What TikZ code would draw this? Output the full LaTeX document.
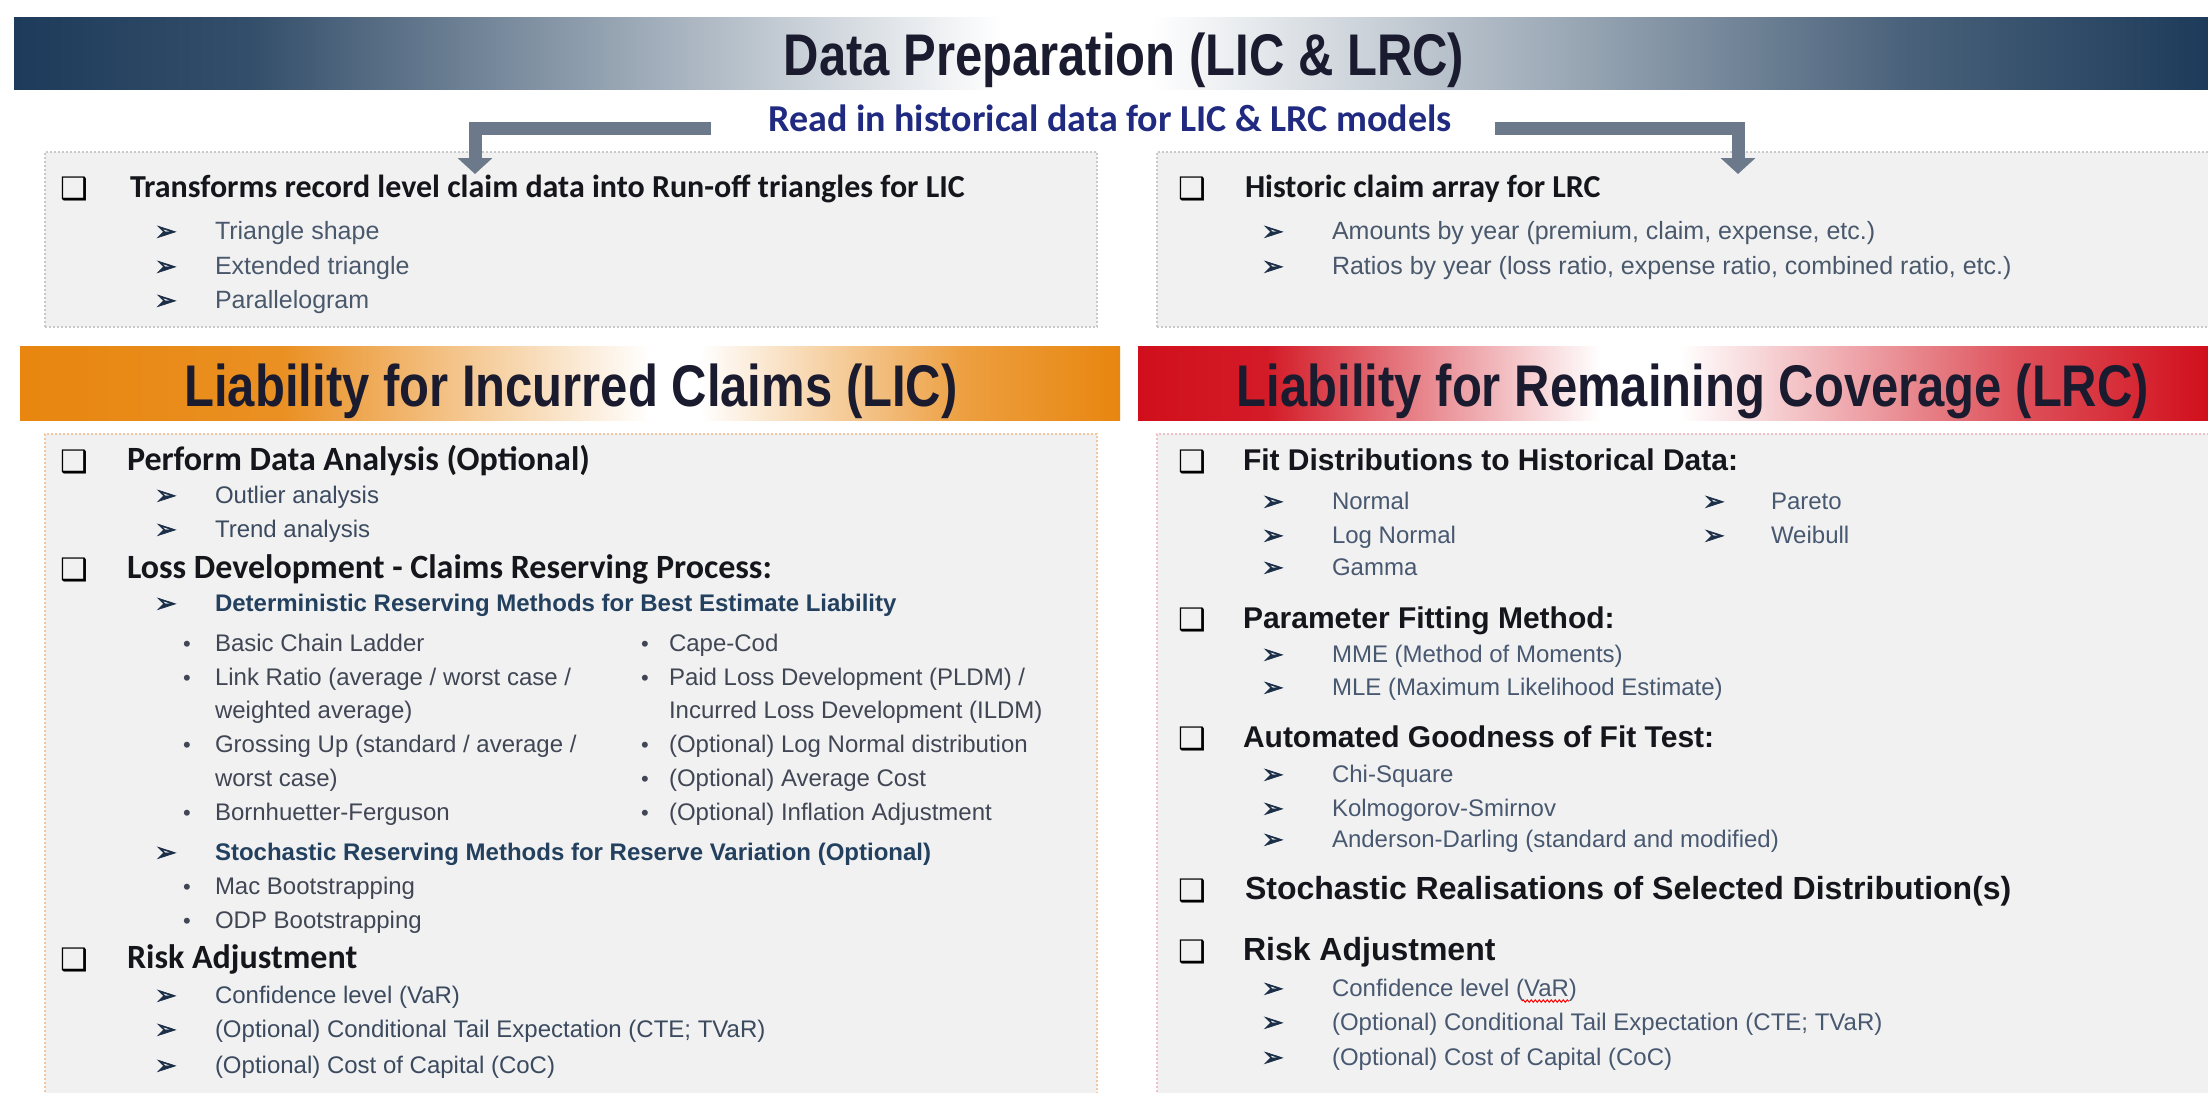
\documentclass[tikz,border=0pt]{standalone}
\usepackage{graphicx}
\usepackage{fontspec}
\setmainfont{Liberation Sans}
\newfontfamily\calibrifont{Carlito}
\newfontfamily\djvfont{DejaVu Sans}
\newfontfamily\djvboldfont[FakeBold=2.5]{DejaVu Sans}
\usetikzlibrary{arrows.meta,decorations.pathmorphing}
\definecolor{navy}{HTML}{1D3B5A}
\definecolor{orng}{HTML}{E8860F}
\definecolor{redc}{HTML}{D10F1C}
\definecolor{boxfill}{HTML}{F1F1F1}
\definecolor{boxline}{HTML}{C9C9C9}
\definecolor{licline}{HTML}{F2C7A0}
\definecolor{lrcline}{HTML}{F0BFC8}
\definecolor{titleink}{HTML}{1B1B2F}
\definecolor{readink}{HTML}{1F2A80}
\definecolor{headink}{HTML}{15151C}
\definecolor{topink}{HTML}{4A586C}
\definecolor{itemink}{HTML}{3B4A5E}
\definecolor{lrcink}{HTML}{475870}
\definecolor{bulletink}{HTML}{404654}
\definecolor{subink}{HTML}{23405F}
\definecolor{arrowink}{HTML}{1C2F48}
\definecolor{barink}{HTML}{6C798B}
\pgfdeclarehorizontalshading{titleshade}{100bp}{color(0bp)=(navy); color(25bp)=(navy); color(30.4bp)=(navy!90!white); color(47.5bp)=(white); color(50.9bp)=(white); color(68bp)=(navy!80!white); color(75bp)=(navy); color(100bp)=(navy)}
\pgfdeclarehorizontalshading{licshade}{100bp}{color(0bp)=(orng); color(25bp)=(orng); color(36.9bp)=(orng!92!white); color(53.6bp)=(white); color(55.9bp)=(white); color(68bp)=(orng!80!white); color(75bp)=(orng); color(100bp)=(orng)}
\pgfdeclarehorizontalshading{lrcshade}{100bp}{color(0bp)=(redc); color(25bp)=(redc); color(31bp)=(redc!95!white); color(46.6bp)=(white); color(50.3bp)=(white); color(66bp)=(redc!72!white); color(75bp)=(redc); color(100bp)=(redc)}
\newcommand\talltext[1]{\scalebox{1}[1.2]{#1}}
\tikzset{
 txt/.style={inner sep=0pt, outer sep=0pt, anchor=base west},
 bigtitle/.style={txt, anchor=base, font=\bfseries\fontsize{49}{55}\selectfont, text=titleink},
 readline/.style={txt, anchor=base, font=\calibrifont\bfseries\fontsize{38}{44}\selectfont, text=readink},
 banner/.style={draw=none, minimum height=74pt, inner sep=0pt, outer sep=0pt, anchor=north west},
 panel/.style={fill=boxfill, line width=1.5pt, dash pattern=on 2pt off 2pt, anchor=north west, inner sep=0pt, outer sep=0pt},
 chk/.style={txt, font=\djvfont\fontsize{31}{36}\selectfont, text=black},
 arw/.style={txt, font=\djvboldfont\fontsize{26}{30}\selectfont, text=arrowink},
 dotb/.style={txt, font=\fontsize{22}{28}\selectfont, text=bulletink},
 hcal/.style={txt, font=\calibrifont\bfseries\fontsize{34}{40}\selectfont, text=headink},
 htop/.style={txt, font=\calibrifont\bfseries\fontsize{32}{38}\selectfont, text=headink},
 harl/.style={txt, font=\bfseries\fontsize{30}{36}\selectfont, text=headink},
 harlb/.style={txt, font=\bfseries\fontsize{32}{38}\selectfont, text=headink},
 itm/.style={txt, font=\fontsize{24}{28}\selectfont, text=itemink},
 litm/.style={txt, font=\fontsize{24}{28}\selectfont, text=bulletink},
 ritm/.style={txt, font=\fontsize{24}{28}\selectfont, text=lrcink},
 topitm/.style={txt, font=\fontsize{25}{30}\selectfont, text=topink},
 subh/.style={txt, font=\bfseries\fontsize{24}{28}\selectfont, text=subink},
 bar/.style={line width=13pt, draw=barink, line join=miter, -{Triangle[width=34pt,length=16pt]}},
}
\begin{document}
\begin{tikzpicture}[x=1pt,y=-1pt]
\useasboundingbox (0,0) rectangle (2208,1092);
\clip (0,0) rectangle (2208,1092);
\fill[white] (0,0) rectangle (2208,1092);
% title banner
\node[banner, minimum width=2194pt, minimum height=72pt, shading=titleshade] (tband) at (14,17) {};
\node[bigtitle] (title) at (1124,75) {\talltext{Data Preparation (LIC \& LRC)}};
\node[readline] (read) at (1110,131) {Read in historical data for LIC \& LRC models};
% top panels
\node[panel, draw=boxline, minimum width=1052pt, minimum height=175pt] (topL) at (45,152) {};
\node[panel, draw=boxline, minimum width=1070pt, minimum height=175pt] (topR) at (1157,152) {};
% arrows
\coordinate (la1) at (711,128);
\coordinate (la2) at (475,128);
\coordinate (la3) at (475,174);
\coordinate (ra1) at (1495,128);
\coordinate (ra2) at (1738,128);
\coordinate (ra3) at (1738,174);
\draw[bar] (la1) -- (la2) -- (la3);
\draw[bar] (ra1) -- (ra2) -- (ra3);
% top-left content
\node[chk] (c1) at (60,199) {❑};
\node[htop] (h1) at (130,197) {Transforms record level claim data into Run-off triangles for LIC};
\node[arw] (a1) at (155,240) {➢};
\node[topitm] (t1) at (215,239) {Triangle shape};
\node[arw] (a2) at (155,275) {➢};
\node[topitm] (t2) at (215,274) {Extended triangle};
\node[arw] (a3) at (155,309) {➢};
\node[topitm] (t3) at (215,308) {Parallelogram};
% top-right content
\node[chk] (c2) at (1178,199) {❑};
\node[htop] (h2) at (1245,197) {Historic claim array for LRC};
\node[arw] (a4) at (1262,240) {➢};
\node[topitm] (t4) at (1332,239) {Amounts by year (premium, claim, expense, etc.)};
\node[arw] (a5) at (1262,275) {➢};
\node[topitm] (t5) at (1332,274) {Ratios by year (loss ratio, expense ratio, combined ratio, etc.)};
% banners
\node[banner, minimum width=1100pt, shading=licshade] (licband) at (20,346) {};
\node[bigtitle] (lictitle) at (571,406) {\talltext{Liability for Incurred Claims (LIC)}};
\node[banner, minimum width=1070pt, shading=lrcshade] (lrcband) at (1138,346) {};
\node[bigtitle] (lrctitle) at (1693,406) {\talltext{Liability for Remaining Coverage (LRC)}};
% lower panels
\node[panel, draw=licline, minimum width=1052pt, minimum height=680pt] (licbox) at (45,434) {};
\node[panel, draw=lrcline, minimum width=1070pt, minimum height=680pt] (lrcbox) at (1157,434) {};
% LIC content
\node[chk] (lc1) at (60,472) {❑};
\node[hcal] (lh1) at (127,470) {Perform Data Analysis (Optional)};
\node[arw] (la_1) at (155,504) {➢};
\node[itm] (li1) at (215,503) {Outlier analysis};
\node[arw] (la_2) at (155,538) {➢};
\node[itm] (li2) at (215,537) {Trend analysis};
\node[chk] (lc2) at (60,580) {❑};
\node[hcal] (lh2) at (127,578) {Loss Development - Claims Reserving Process:};
\node[arw] (la_3) at (155,612) {➢};
\node[subh] (ls1) at (215,611) {Deterministic Reserving Methods for Best Estimate Liability};
\node[dotb] (lb1) at (183,651) {•};
\node[litm] (lt1) at (215,651) {Basic Chain Ladder};
\node[dotb] (lb2) at (183,685) {•};
\node[litm] (lt2) at (215,685) {Link Ratio (average / worst case /};
\node[litm] (lt3) at (215,718) {weighted average)};
\node[dotb] (lb3) at (183,752) {•};
\node[litm] (lt4) at (215,752) {Grossing Up (standard / average /};
\node[litm] (lt5) at (215,786) {worst case)};
\node[dotb] (lb4) at (183,820) {•};
\node[litm] (lt6) at (215,820) {Bornhuetter-Ferguson};
\node[dotb] (rb1) at (641,651) {•};
\node[litm] (rt1) at (669,651) {Cape-Cod};
\node[dotb] (rb2) at (641,685) {•};
\node[litm] (rt2) at (669,685) {Paid Loss Development (PLDM) /};
\node[litm] (rt3) at (669,718) {Incurred Loss Development (ILDM)};
\node[dotb] (rb3) at (641,752) {•};
\node[litm] (rt4) at (669,752) {(Optional) Log Normal distribution};
\node[dotb] (rb4) at (641,786) {•};
\node[litm] (rt5) at (669,786) {(Optional) Average Cost};
\node[dotb] (rb5) at (641,820) {•};
\node[litm] (rt6) at (669,820) {(Optional) Inflation Adjustment};
\node[arw] (la_4) at (155,861) {➢};
\node[subh] (ls2) at (215,860) {Stochastic Reserving Methods for Reserve Variation (Optional)};
\node[dotb] (lb5) at (183,894) {•};
\node[litm] (lt7) at (215,894) {Mac Bootstrapping};
\node[dotb] (lb6) at (183,928) {•};
\node[litm] (lt8) at (215,928) {ODP Bootstrapping};
\node[chk] (lc3) at (60,970) {❑};
\node[hcal] (lh3) at (127,968) {Risk Adjustment};
\node[arw] (la_5) at (155,1004) {➢};
\node[itm] (li3) at (215,1003) {Confidence level (VaR)};
\node[arw] (la_6) at (155,1038) {➢};
\node[itm] (li4) at (215,1037) {(Optional) Conditional Tail Expectation (CTE; TVaR)};
\node[arw] (la_7) at (155,1074) {➢};
\node[itm] (li5) at (215,1073) {(Optional) Cost of Capital (CoC)};
% LRC content
\node[chk] (rc1) at (1178,472) {❑};
\node[harl] (rh1) at (1243,470) {Fit Distributions to Historical Data:};
\node[arw] (ra_1) at (1262,510) {➢};
\node[ritm] (ri1) at (1332,509) {Normal};
\node[arw] (ra_2) at (1703,510) {➢};
\node[ritm] (ri2) at (1771,509) {Pareto};
\node[arw] (ra_3) at (1262,544) {➢};
\node[ritm] (ri3) at (1332,543) {Log Normal};
\node[arw] (ra_4) at (1703,544) {➢};
\node[ritm] (ri4) at (1771,543) {Weibull};
\node[arw] (ra_5) at (1262,576) {➢};
\node[ritm] (ri5) at (1332,575) {Gamma};
\node[chk] (rc2) at (1178,630) {❑};
\node[harl] (rh2) at (1243,628) {Parameter Fitting Method:};
\node[arw] (ra_6) at (1262,663) {➢};
\node[ritm] (ri6) at (1332,662) {MME (Method of Moments)};
\node[arw] (ra_7) at (1262,696) {➢};
\node[ritm] (ri7) at (1332,695) {MLE (Maximum Likelihood Estimate)};
\node[chk] (rc3) at (1178,749) {❑};
\node[harl] (rh3) at (1243,747) {Automated Goodness of Fit Test:};
\node[arw] (ra_8) at (1262,783) {➢};
\node[ritm] (ri8) at (1332,782) {Chi-Square};
\node[arw] (ra_9) at (1262,817) {➢};
\node[ritm] (ri9) at (1332,816) {Kolmogorov-Smirnov};
\node[arw] (ra_10) at (1262,848) {➢};
\node[ritm] (ri10) at (1332,847) {Anderson-Darling (standard and modified)};
\node[chk] (rc4) at (1178,901) {❑};
\node[harlb] (rh4) at (1245,899) {Stochastic Realisations of Selected Distribution(s)};
\node[chk] (rc5) at (1178,962) {❑};
\node[harlb] (rh5) at (1243,960) {Risk Adjustment};
\node[arw] (ra_11) at (1262,997) {➢};
\node[ritm] (ri11) at (1332,996) {Confidence level (VaR)};
\node[arw] (ra_12) at (1262,1031) {➢};
\node[ritm] (ri12) at (1332,1030) {(Optional) Conditional Tail Expectation (CTE; TVaR)};
\node[arw] (ra_13) at (1262,1066) {➢};
\node[ritm] (ri13) at (1332,1065) {(Optional) Cost of Capital (CoC)};
\draw[red, line width=1pt, decorate, decoration={snake, amplitude=1.2pt, segment length=4pt}] ([xshift=190pt,yshift=-5pt]ri11.base west) -- ([xshift=237pt,yshift=-5pt]ri11.base west);
\end{tikzpicture}
\end{document}
